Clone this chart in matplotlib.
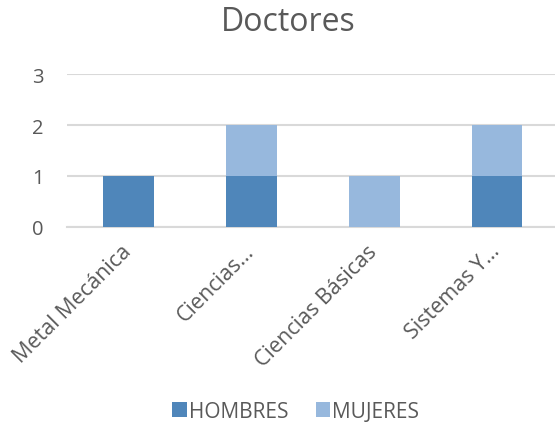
import matplotlib.pyplot as plt
import numpy as np

categorias = ["Metal Mecánica", "Ciencias…", "Ciencias Básicas", "Sistemas Y…"]
hombres = [1, 1, 0, 1]
mujeres = [0, 1, 1, 1]

plt.rcParams['font.family'] = ['Open Sans', 'DejaVu Sans']

fig = plt.figure(figsize=(5.55, 4.27), dpi=100)
ax = fig.add_axes([67/555, 1 - 228/427, 488/555, (228 - 75)/427])

x = np.arange(len(categorias))
ax.bar(x, hombres, width=0.41, color='#4f86ba', label='HOMBRES', zorder=3)
ax.bar(x, mujeres, width=0.41, bottom=hombres, color='#97b8dd', label='MUJERES', zorder=3)

ax.set_ylim(0, 3)
ax.set_xlim(-0.5, 3.47)
ax.set_yticks([0, 1, 2, 3])
ax.yaxis.grid(True, color='#d9d9d9', linewidth=1.5, zorder=0)
for s in ['top', 'right', 'left']:
    ax.spines[s].set_visible(False)
ax.spines['bottom'].set_color('#d9d9d9')
ax.spines['bottom'].set_linewidth(1.5)
ax.tick_params(length=0, colors='#595959', labelsize=14.5)
ax.tick_params(axis='y', pad=17)
ax.tick_params(axis='x', pad=15, labelsize=15.5)
ax.set_xticks(x)
ax.set_xticklabels(categorias, rotation=45, ha='right', va='center', rotation_mode='anchor')

fig.text(0.52, 0.948, "Doctores", ha='center', va='center', fontsize=23, color='#595959')
fig.legend(loc='center', bbox_to_anchor=(0.533, 0.035), ncol=2, frameon=False,
           fontsize=15, labelcolor='#595959', handlelength=0.7, handleheight=0.7,
           handletextpad=0.1, columnspacing=1.3)

fig.savefig("out.png", dpi=100)
